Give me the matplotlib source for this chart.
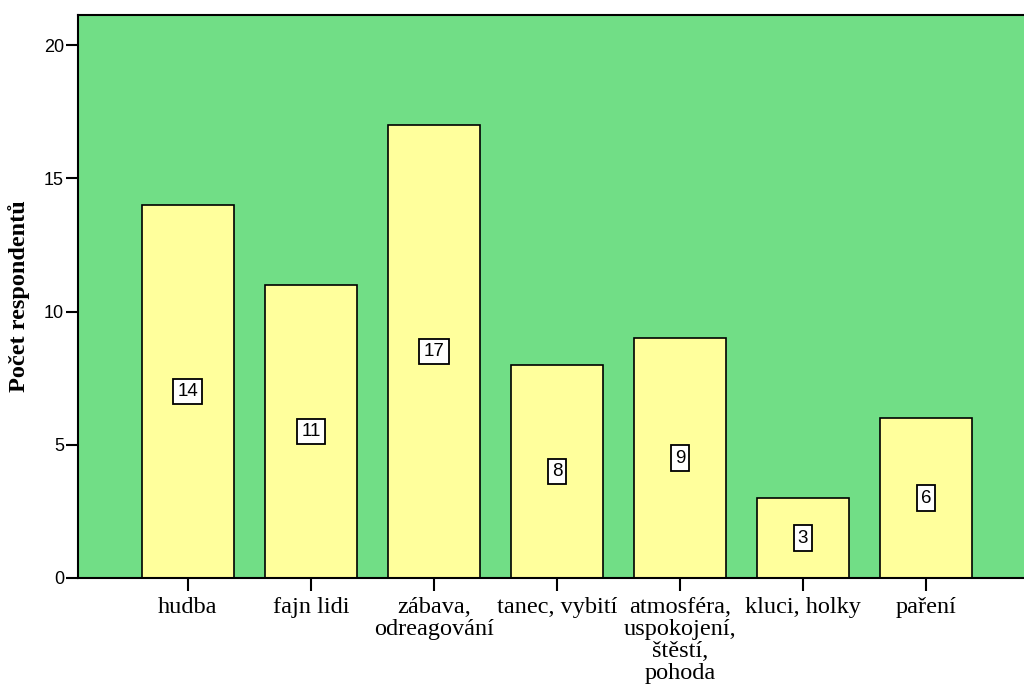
import numpy as np
import matplotlib
matplotlib.use('Agg')
import matplotlib.pyplot as plt

# Data
categories = ['hudba', 'fajn lidi', 'zábava,\nodreagování', 'tanec, vybití',
              'atmosféra,\nuspokojení,\nštěstí,\npohoda', 'kluci, holky', 'paření']
counts = [14, 11, 17, 8, 9, 3, 6]
y_ticks = [0, 5, 10, 15, 20]

fig = plt.figure(figsize=(10.24, 6.86), dpi=100)
ax = fig.add_axes([78/1024, 1 - 578/686, 1 - 78/1024 + 0.01, (578 - 15)/686])
ax.set_facecolor('#71DE86')

x = np.arange(len(categories))
ax.bar(x, counts, width=0.75, color='#FFFF9C', edgecolor='black', linewidth=1.2, zorder=2)

# value labels in boxes
for xi, v in zip(x, counts):
    ax.text(xi, v / 2, str(v), ha='center', va='center', fontsize=13.5,
            family='Liberation Sans', zorder=3,
            bbox=dict(boxstyle='square,pad=0.22', facecolor='white', edgecolor='black', linewidth=1.3))

ax.set_xlim(-0.894, 6.88)
ax.set_ylim(0, 21.13)
ax.set_yticks(y_ticks)
ax.set_yticklabels([str(t) for t in y_ticks], family='Liberation Sans', fontsize=13)
ax.set_xticks(x)
ax.set_xticklabels(categories, family='Liberation Serif', fontsize=17.5, linespacing=1.05)
ax.tick_params(axis='y', direction='out', length=9, width=1.5, pad=1)
ax.tick_params(axis='x', direction='out', length=9, width=1.5, pad=5)
for s in ['left', 'bottom', 'top']:
    ax.spines[s].set_linewidth(1.5)
ax.spines['right'].set_visible(False)

ax.set_ylabel('Počet respondentů', family='Liberation Serif', fontsize=17.5,
              fontweight='bold', labelpad=10)

fig.savefig('out.png', dpi=100)
